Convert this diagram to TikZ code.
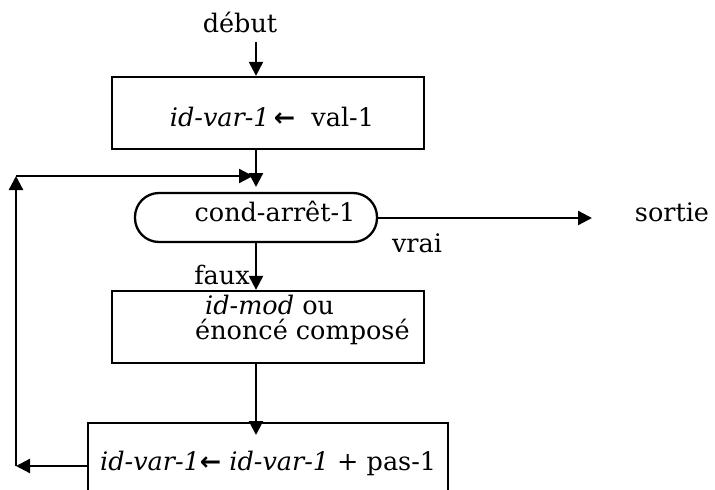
\documentclass[tikz,border=0pt]{standalone}
\usepackage{fontspec}
\setmainfont{DejaVu Serif}
\newfontfamily\symf{DejaVu Sans}
\usetikzlibrary{arrows.meta}
\begin{document}
\begin{tikzpicture}[x=1pt,y=-1pt,
  every node/.style={font=\fontsize{25.5}{30}\selectfont, inner sep=0pt},
  conn/.style={line width=2.3pt, -{Triangle[length=14pt,width=14pt]}},
  line/.style={line width=2.3pt},
  boxshape/.style={draw, line width=2.3pt, rectangle},
  ovalshape/.style={draw, line width=2.3pt, rectangle, rounded corners=24pt}
]
\clip (0,0) rectangle (715,490);
\fill[white] (0,0) rectangle (715,490);

% shapes
\node[boxshape, minimum width=312pt, minimum height=72pt] (b1) at (268,113) {};
\node[ovalshape, minimum width=242pt, minimum height=49pt] (ov) at (256,217.5) {};
\node[boxshape, minimum width=312pt, minimum height=72pt] (b3) at (268,327) {};
\coordinate (b4nw) at (88,423);
\coordinate (b4ne) at (448,423);
\coordinate (b4sw) at (88,500);
\coordinate (b4se) at (448,500);
\draw[line] (b4sw) -- (b4nw) -- (b4ne) -- (b4se);

% texts
\node (debut) at (240,22) {début};
\node (t1) at (272,117) {\itshape id-var-1\/\,{\symf\bfseries ←}\ \ \upshape val-1};
\node (t2) at (275,211) {cond-arrêt-1};
\node (sortie) at (672,212) {sortie};
\node (vrai) at (417,243) {vrai};
\node (faux) at (222,275) {faux};
\node[anchor=west] (t3a) at (205,305) {\itshape id-mod\/ \upshape ou};
\node[anchor=west] (t3b) at (195,332) {énoncé composé};
\node[anchor=west] (t4) at (100,463) {\itshape id-var-1\/{\symf\bfseries ←} id-var-1\/ \upshape + pas-1};

% coordinates
\coordinate (s0) at (256,42);
\coordinate (m1) at (256,187);
\coordinate (ovE) at (377,218);
\coordinate (out) at (592,218);
\coordinate (b4top) at (256,435);
\coordinate (l1) at (88,466);
\coordinate (l2) at (16,466);
\coordinate (l3) at (16,176);
\coordinate (l4) at (253,176);

% connectors
\draw[conn] (s0) -- (s0 |- b1.north);
\draw[conn] (s0 |- b1.south) -- (m1);
\draw[conn] (ovE) -- (out);
\draw[conn] (ov.south) -- (s0 |- b3.north);
\draw[conn] (s0 |- b3.south) -- (b4top);
\draw[conn] (l1) -- (l2);
\draw[conn] (l2) -- (l3);
\draw[conn] (l3) -- (l4);
\end{tikzpicture}
\end{document}
